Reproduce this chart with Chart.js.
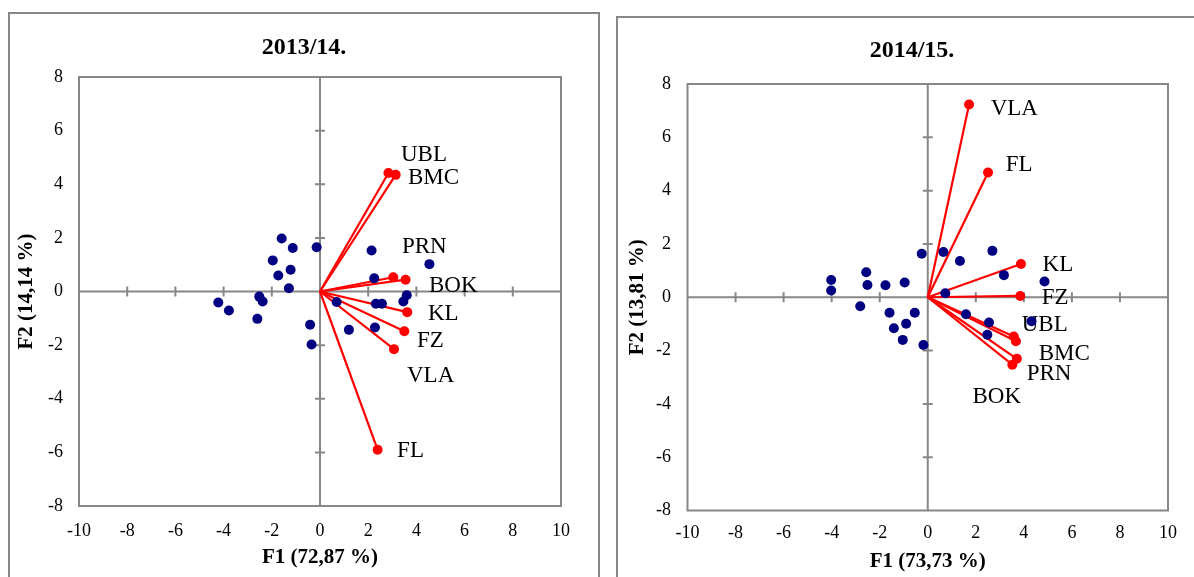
<!DOCTYPE html>
<html><head><meta charset="utf-8">
<script src="https://cdn.jsdelivr.net/npm/chart.js@4.4.1/dist/chart.umd.min.js"></script>
<style>
html,body{margin:0;padding:0;background:#fff;overflow:hidden;width:1194px;height:577px;position:relative;}
.panel{position:absolute;border:2px solid #878787;box-sizing:border-box;}
canvas{position:absolute;top:0;}
</style></head><body>
<div class="panel" style="left:8px;top:12px;width:592px;height:620px"></div>
<div class="panel" style="left:616px;top:16px;width:620px;height:620px"></div>
<canvas id="c1" width="600" height="577" style="left:0"></canvas>
<canvas id="c2" width="594" height="577" style="left:600px"></canvas>
<script>
// ---------- 2013/14 ----------
const vars2013 = ['UBL','BMC','PRN','BOK','KL','FZ','VLA','FL'];
const varF1_2013 = [2.84, 3.14, 3.04, 3.55, 3.62, 3.50, 3.07, 2.39];
const varF2_2013 = [4.42, 4.35, 0.53, 0.44, -0.77, -1.48, -2.15, -5.90];
const labelF1_2013 = [3.36, 3.65, 3.40, 4.52, 4.48, 4.02, 3.61, 3.20];
const labelF2_2013 = [5.10, 4.25, 1.68, 0.19, -0.83, -1.83, -3.15, -5.94];
const obsF1_2013 = [-1.59,-1.13,-0.14,-1.96,-1.22,-1.73,-1.29,-4.22,-3.78,-2.52,-2.38,-2.60,-0.41,-0.35,0.69,1.20,2.14,2.25,2.32,2.57,2.28,3.46,3.60,4.54];
const obsF2_2013 = [1.98,1.62,1.65,1.16,0.81,0.60,0.12,-0.41,-0.71,-0.19,-0.37,-1.02,-1.24,-1.98,-0.39,-1.43,1.53,0.49,-0.46,-0.46,-1.34,-0.37,-0.14,1.02];

// ---------- 2014/15 ----------
const vars2014 = ['VLA','FL','KL','FZ','UBL','BMC','PRN','BOK'];
const varF1_2014 = [1.72, 2.51, 3.88, 3.85, 3.58, 3.67, 3.71, 3.52];
const varF2_2014 = [7.23, 4.68, 1.25, 0.05, -1.47, -1.65, -2.31, -2.53];
const labelF1_2014 = [2.62, 3.25, 4.78, 4.74, 3.91, 4.62, 4.12, 1.86];
const labelF2_2014 = [7.07, 4.97, 1.22, -0.01, -1.05, -2.12, -2.87, -3.73];
const obsF1_2014 = [-0.25,0.65,1.34,2.69,3.17,4.86,0.73,-4.02,-4.02,-2.56,-2.51,-1.76,-0.96,-2.81,-1.59,-0.54,-1.41,-0.90,-1.04,-0.18,1.59,2.55,2.48,4.32];
const obsF2_2014 = [1.63,1.70,1.36,1.74,0.83,0.59,0.15,0.65,0.25,0.94,0.46,0.45,0.55,-0.34,-0.58,-0.58,-1.16,-0.99,-1.60,-1.79,-0.64,-0.95,-1.41,-0.90];

const xRange = [-10, 10];
const yRange = [-8, 8];
const tickStep = 2;

const FONT = "'Liberation Serif','Times New Roman',serif";
const GRAY = '#878787';

const decor = {
  id: 'biplotDecor',
  beforeDatasetsDraw(chart, args, o) {
    const {ctx, chartArea: a, scales: {x, y}} = chart;
    ctx.save();
    ctx.strokeStyle = GRAY;
    ctx.lineWidth = 2;
    ctx.strokeRect(a.left, a.top, a.right - a.left, a.bottom - a.top);
    const x0 = x.getPixelForValue(0), y0 = y.getPixelForValue(0);
    ctx.beginPath();
    ctx.moveTo(a.left, y0); ctx.lineTo(a.right, y0);
    ctx.moveTo(x0, a.top); ctx.lineTo(x0, a.bottom);
    x.ticks.forEach(t => {
      if (t.value !== 0 && t.value > x.min && t.value < x.max) {
        const p = x.getPixelForValue(t.value);
        ctx.moveTo(p, y0 - 5); ctx.lineTo(p, y0 + 5);
      }
    });
    y.ticks.forEach(t => {
      if (t.value !== 0 && t.value > y.min && t.value < y.max) {
        const p = y.getPixelForValue(t.value);
        ctx.moveTo(x0 - 5, p); ctx.lineTo(x0 + 5, p);
      }
    });
    ctx.stroke();
    // variable labels
    ctx.fillStyle = '#000';
    ctx.font = '23px ' + FONT;
    ctx.textAlign = 'left';
    ctx.textBaseline = 'middle';
    o.names.forEach((n, i) => {
      ctx.fillText(n, x.getPixelForValue(o.lx[i]), y.getPixelForValue(o.ly[i]));
    });
    ctx.restore();
  },
  afterDraw(chart, args, o) {
    const ctx = chart.ctx;
    ctx.save();
    ctx.fillStyle = '#000';
    ctx.font = 'bold 24px ' + FONT;
    ctx.textAlign = 'center';
    ctx.textBaseline = 'middle';
    ctx.fillText(o.title, o.tx, o.ty);
    ctx.restore();
  }
};

function build(id, cfg) {
  const datasets = [{
    data: cfg.obsX.map((v, i) => ({x: v, y: cfg.obsY[i]})),
    backgroundColor: '#000080', borderWidth: 0, pointRadius: 5, showLine: false
  }];
  cfg.vx.forEach((v, i) => {
    datasets.push({
      data: [{x: 0, y: 0}, {x: v, y: cfg.vy[i]}],
      showLine: true, borderColor: '#ff0000', borderWidth: 2.2,
      pointRadius: [0, 5], pointBackgroundColor: '#ff0000', pointBorderWidth: 0
    });
  });
  const tickFont = {family: FONT, size: 18};
  const titleFont = {family: FONT, size: 21, weight: 'bold'};
  return new Chart(document.getElementById(id), {
    type: 'scatter',
    data: {datasets},
    plugins: [decor],
    options: {
      responsive: false, animation: false, events: [],
      layout: {padding: cfg.pad},
      plugins: {
        legend: {display: false}, tooltip: {enabled: false}, title: {display: false},
        biplotDecor: {names: cfg.names, lx: cfg.lx, ly: cfg.ly, title: cfg.title, tx: cfg.tx, ty: cfg.ty}
      },
      scales: {
        x: {
          type: 'linear', position: 'bottom', min: xRange[0], max: xRange[1],
          ticks: {stepSize: tickStep, padding: cfg.xtp, color: '#000', font: tickFont, maxRotation: 0, autoSkip: false},
          grid: {display: false, drawTicks: false}, border: {display: false},
          title: {display: true, text: cfg.xTitle, color: '#000', font: titleFont, padding: {top: 0, bottom: cfg.xtitlePad}},
          afterFit(s) { s.height = cfg.xh; }
        },
        y: {
          type: 'linear', position: 'left', min: yRange[0], max: yRange[1],
          ticks: {stepSize: tickStep, padding: cfg.ytp, color: '#000', font: tickFont, autoSkip: false},
          grid: {display: false, drawTicks: false}, border: {display: false},
          title: {display: true, text: cfg.yTitle, color: '#000', font: titleFont, padding: {top: cfg.ytitlePad, bottom: 0}},
          afterFit(s) { s.width = cfg.yw; }
        }
      }
    }
  });
}

build('c1', {
  names: vars2013, vx: varF1_2013, vy: varF2_2013, lx: labelF1_2013, ly: labelF2_2013,
  obsX: obsF1_2013, obsY: obsF2_2013,
  title: '2013/14.', tx: 304, ty: 48,
  xTitle: 'F1 (72,87 %)', yTitle: 'F2 (14,14 %)',
  pad: {top: 77, right: 39, bottom: 0, left: 0},
  yw: 79, xh: 71, xtp: 14, ytp: 16, xtitlePad: 6.4, ytitlePad: 14.4
});
build('c2', {
  names: vars2014, vx: varF1_2014, vy: varF2_2014, lx: labelF1_2014, ly: labelF2_2014,
  obsX: obsF1_2014, obsY: obsF2_2014,
  title: '2014/15.', tx: 312, ty: 51,
  xTitle: 'F1 (73,73 %)', yTitle: 'F2 (13,81 %)',
  pad: {top: 84, right: 26, bottom: 0, left: 0},
  yw: 87.5, xh: 66.5, xtp: 12, ytp: 16.5, xtitlePad: 2.4, ytitlePad: 25
});
</script>
</body></html>
